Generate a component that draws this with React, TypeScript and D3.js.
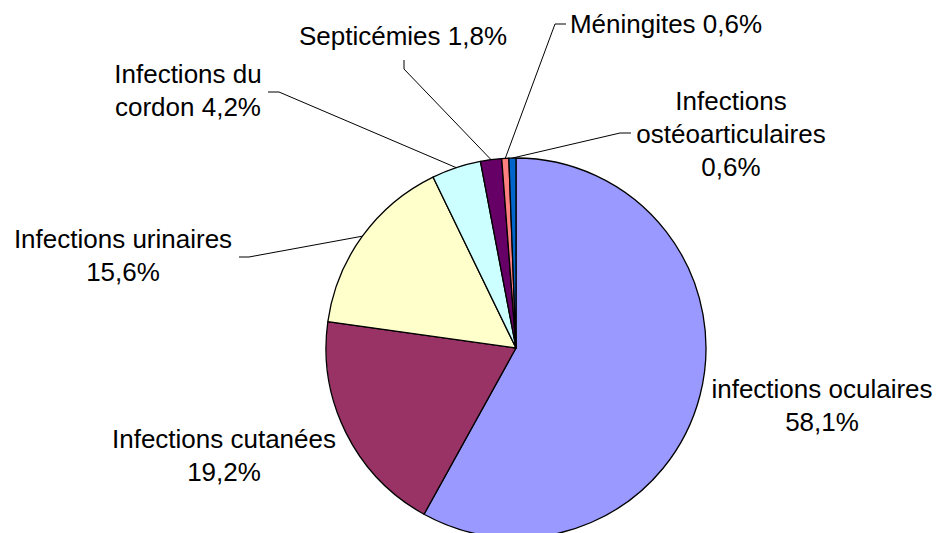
import React from "react";
import * as d3 from "d3";

// ---- data ----
const categories = [
  "infections oculaires",
  "Infections cutanées",
  "Infections urinaires",
  "Infections du cordon",
  "Septicémies",
  "Méningites",
  "Infections ostéoarticulaires",
];
const values = [58.1, 19.2, 15.6, 4.2, 1.8, 0.6, 0.6];
const valueLabels = ["58,1%", "19,2%", "15,6%", "4,2%", "1,8%", "0,6%", "0,6%"];
const labelLines = [
  ["infections oculaires", "58,1%"],
  ["Infections cutanées", "19,2%"],
  ["Infections urinaires", "15,6%"],
  ["Infections du", "cordon 4,2%"],
  ["Septicémies 1,8%"],
  ["Méningites 0,6%"],
  ["Infections", "ostéoarticulaires", "0,6%"],
];
const colors = ["#9999FF", "#993366", "#FFFFCC", "#CCFFFF", "#660066", "#FF8080", "#0066CC"];

// ---- layout ----
const W = 941;
const H = 533;
const CX = 516;
const CY = 348;
const R = 190;
const FONT = 26;
const LINE_H = 33;
const labelPos: { x: number; y: number }[] = [
  { x: 822, y: 398 },
  { x: 224, y: 448 },
  { x: 123, y: 248 },
  { x: 188, y: 83 },
  { x: 403, y: 45 },
  { x: 666, y: 33 },
  { x: 731, y: 110 },
];
// leader line start points (label side), null = no leader
const leaders: ([number, number][] | null)[] = [
  null,
  null,
  [[239, 257], [249, 257]],
  [[268, 92], [279, 92]],
  [[404, 60], [404, 69]],
  [[566, 24], [555, 24]],
  [[631, 133], [620, 133]],
];

export default function App() {
  const pie = d3.pie<number>().sort(null).value((d) => d);
  const arcs = pie(values);
  const arc = d3.arc<d3.PieArcDatum<number>>().innerRadius(0).outerRadius(R);
  const edge = d3.arc<d3.PieArcDatum<number>>().innerRadius(R).outerRadius(R);

  return (
    <svg
      width={W}
      height={H}
      style={{ position: "absolute", left: 0, top: 0, background: "#fff" }}
      fontFamily="'Liberation Sans', Arial, sans-serif"
    >
      <g transform={`translate(${CX},${CY})`}>
        {arcs.map((a, i) => (
          <path
            key={categories[i]}
            d={arc(a) || ""}
            fill={colors[i]}
            stroke="#000"
            strokeWidth={1.3}
            strokeLinejoin="round"
          />
        ))}
      </g>
      {arcs.map((a, i) => {
        const pts = leaders[i];
        if (!pts) return null;
        const [ex, ey] = edge.centroid(a);
        const all = [...pts, [CX + ex, CY + ey]];
        return (
          <polyline
            key={"l" + i}
            points={all.map((p) => p.join(",")).join(" ")}
            fill="none"
            stroke="#000"
            strokeWidth={1}
          />
        );
      })}
      {labelLines.map((lines, i) => (
        <text
          key={"t" + i}
          x={labelPos[i].x}
          y={labelPos[i].y}
          textAnchor="middle"
          fontSize={FONT}
          fill="#000"
          data-value={valueLabels[i]}
        >
          {lines.map((ln, j) => (
            <tspan key={j} x={labelPos[i].x} dy={j === 0 ? 0 : LINE_H}>
              {ln}
            </tspan>
          ))}
        </text>
      ))}
    </svg>
  );
}
